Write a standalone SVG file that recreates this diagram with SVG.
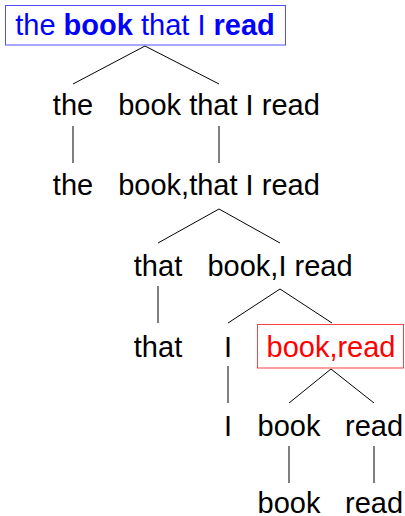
<svg xmlns="http://www.w3.org/2000/svg" width="405" height="516" viewBox="0 0 405 516">
<style>
text{font-family:"Liberation Sans",Arial,sans-serif;font-size:29px;text-anchor:middle;fill:#000}
.blue{fill:#0000ff}
.red{fill:#ff0000}
.b{font-weight:bold}
line{stroke:#000;stroke-width:1}
</style>
<rect width="405" height="516" fill="#fff"/>
<g id="connectors">
<line x1="145" y1="46" x2="73" y2="84"/>
<line x1="145" y1="46" x2="219" y2="84"/>
<line x1="73" y1="126" x2="73" y2="163"/>
<line x1="219" y1="126" x2="219" y2="163"/>
<line x1="219" y1="209" x2="158" y2="243"/>
<line x1="219" y1="209" x2="280" y2="243"/>
<line x1="158" y1="286" x2="158" y2="323"/>
<line x1="280" y1="289" x2="228" y2="323"/>
<line x1="280" y1="289" x2="332" y2="323"/>
<line x1="228" y1="366" x2="228" y2="403"/>
<line x1="331" y1="369" x2="289" y2="403"/>
<line x1="331" y1="369" x2="374" y2="403"/>
<line x1="289" y1="446" x2="289" y2="483"/>
<line x1="374" y1="446" x2="374" y2="483"/>
</g>
<g id="root">
<rect x="5.5" y="5.5" width="280" height="39.5" fill="#fff" stroke="#5050ff" stroke-width="1"/>
<text x="145" y="35" class="blue">the <tspan class="b">book</tspan> that I <tspan class="b">read</tspan></text>
</g>
<g id="n-the1"><text x="73" y="115">the</text></g>
<g id="n-btir1"><text x="219" y="115">book that I read</text></g>
<g id="n-the2"><text x="73" y="195">the</text></g>
<g id="n-btir2"><text x="219" y="195">book,that I read</text></g>
<g id="n-that1"><text x="158" y="276">that</text></g>
<g id="n-bir"><text x="280" y="276">book,I read</text></g>
<g id="n-that2"><text x="158" y="357">that</text></g>
<g id="n-I1"><text x="228" y="357">I</text></g>
<g id="n-br">
<rect x="257.5" y="324.5" width="146" height="43.5" fill="#fff" stroke="#ff4040" stroke-width="1"/>
<text x="331" y="357" class="red">book,read</text>
</g>
<g id="n-I2"><text x="228" y="436">I</text></g>
<g id="n-book1"><text x="289" y="436">book</text></g>
<g id="n-read1"><text x="374" y="436">read</text></g>
<g id="n-book2"><text x="289" y="513">book</text></g>
<g id="n-read2"><text x="374" y="513">read</text></g>
</svg>
